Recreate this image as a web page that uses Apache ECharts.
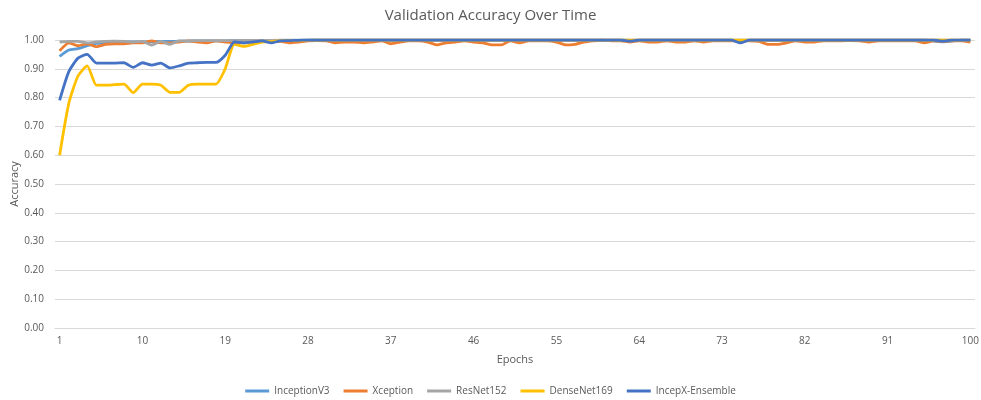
<!DOCTYPE html>
<html>
<head>
<meta charset="utf-8">
<script src="https://cdn.jsdelivr.net/npm/echarts@6/dist/echarts.min.js"></script>
<style>html,body{margin:0;padding:0;background:#fff}#c{width:981px;height:400px}</style>
</head>
<body>
<div id="c"></div>
<script>
const epochs = Array.from({length: 100}, (_, i) => String(i + 1));

const inceptionV3 = [0.943,0.965,0.970,0.980,0.988,0.990,0.992,0.993,0.993,0.993,
0.994,0.995,0.995,0.996,0.996,0.997,0.997,0.997,0.997,0.998,
0.998,0.998,0.998,0.998,0.999,0.999,0.999,1,1,1,
1,1,1,1,1,1,1,1,1,1,
1,1,1,1,1,1,1,1,1,1,
1,1,1,1,1,1,1,1,1,1,
1,1,0.998,1,1,1,1,1,1,1,
1,1,1,1,0.995,1,1,1,1,1,
1,1,1,1,1,1,1,1,1,1,
1,1,1,1,1,0.996,0.994,0.996,1,1];

const xception = [0.962,0.990,0.980,0.987,0.977,0.985,0.987,0.987,0.990,0.990,
0.997,0.990,0.990,0.993,0.997,0.993,0.990,0.997,0.993,0.990,
0.990,0.993,0.997,0.993,0.995,0.990,0.993,0.997,0.998,0.997,
0.990,0.993,0.993,0.990,0.993,0.997,0.987,0.993,0.997,0.997,
0.993,0.983,0.990,0.993,0.997,0.993,0.990,0.983,0.983,0.997,
0.990,0.997,0.997,0.997,0.993,0.983,0.985,0.993,0.997,1.000,
0.997,0.997,0.993,0.997,0.993,0.993,0.997,0.993,0.993,0.997,
0.993,0.997,0.997,0.997,0.997,0.997,0.995,0.985,0.985,0.990,
0.997,0.993,0.993,0.997,0.997,0.997,0.998,0.997,0.993,0.997,
0.997,0.997,0.997,0.997,0.990,0.997,0.995,0.997,0.997,0.993];

const resNet152 = [0.993,0.995,0.995,0.990,0.993,0.995,0.996,0.995,0.993,0.995,
0.982,0.995,0.985,0.997,0.997,0.998,0.998,0.998,0.998,0.998,
0.999,0.999,0.999,0.999,1,1,1,1,1,1,
1,1,1,1,1,1,1,1,1,1,
1,1,1,1,1,1,1,1,1,1,
1,1,1,1,1,1,1,1,1,1,
1,1,1,1,1,1,1,1,1,1,
1,1,1,1,1,1,1,1,1,1,
1,1,1,1,1,1,1,1,1,1,
1,1,1,1,1,1,1,1,1,1];

const denseNet169 = [0.600,0.780,0.875,0.910,0.843,0.843,0.845,0.847,0.817,0.847,
0.847,0.843,0.818,0.818,0.843,0.847,0.847,0.847,0.900,0.985,
0.978,0.985,0.993,0.995,0.997,0.998,0.998,0.999,1,1,
1,1,1,1,1,1,1,1,1,1,
1,1,1,1,1,1,1,1,1,1,
1,1,1,1,1,1,1,1,1,1,
1,1,1,1,1,1,1,1,1,1,
1,1,1,1,1,1,1,1,1,1,
1,1,1,1,1,1,1,1,1,1,
1,1,1,1,1,1,1,1,1,1];

const incepXEnsemble = [0.790,0.890,0.937,0.950,0.920,0.920,0.920,0.921,0.905,0.921,
0.913,0.920,0.903,0.910,0.920,0.921,0.922,0.922,0.947,0.993,
0.990,0.993,0.997,0.990,0.997,0.998,0.999,1,1,1,
1,1,1,1,1,1,1,1,1,1,
1,1,1,1,1,1,1,1,1,1,
1,1,1,1,1,1,1,1,1,1,
1,1,0.996,1,1,1,1,1,1,1,
1,1,1,1,0.990,1,1,1,1,1,
1,1,1,1,1,1,1,1,1,1,
1,1,1,1,1,1,0.996,1,1,1];

const seriesNames = ['InceptionV3','Xception','ResNet152','DenseNet169','IncepX-Ensemble'];
const seriesData = [inceptionV3, xception, resNet152, denseNet169, incepXEnsemble];
const colors = ['#5B9BD5','#ED7D31','#A5A5A5','#FFC000','#4472C4'];

const font = 'Open Sans';
const chart = echarts.init(document.getElementById('c'));
chart.setOption({
  animation: false,
  title: {
    text: 'Validation Accuracy Over Time',
    left: 'center', top: 3,
    textStyle: {color: '#595959', fontSize: 15, fontWeight: 'normal', fontFamily: font}
  },
  legend: {
    bottom: -1, left: 'center',
    itemWidth: 24, itemHeight: 3, itemGap: 14,
    icon: 'rect',
    textStyle: {color: '#595959', fontSize: 10, fontFamily: font},
    data: seriesNames
  },
  grid: {left: 55, right: 6, top: 40, bottom: 72, containLabel: false, outerBoundsMode: 'none'},
  xAxis: {
    type: 'category', data: epochs, boundaryGap: true,
    name: 'Epochs', nameLocation: 'middle', nameGap: 26, nameMoveOverlap: false,
    nameTextStyle: {color: '#595959', fontSize: 11, fontFamily: font},
    axisLine: {show: true, lineStyle: {color: '#D9D9D9'}},
    axisTick: {show: false},
    axisLabel: {interval: 8, color: '#595959', fontSize: 10, fontFamily: font, margin: 8}
  },
  yAxis: {
    type: 'value', min: 0, max: 1, interval: 0.1,
    name: 'Accuracy', nameLocation: 'middle', nameGap: 35, nameMoveOverlap: false,
    nameTextStyle: {color: '#595959', fontSize: 11, fontFamily: font},
    axisLine: {show: false}, axisTick: {show: false},
    axisLabel: {color: '#595959', fontSize: 10, fontFamily: font, margin: 11, formatter: v => v.toFixed(2)},
    splitLine: {lineStyle: {color: '#D9D9D9'}}
  },
  series: seriesNames.map((n, i) => ({
    name: n, type: 'line', data: seriesData[i],
    showSymbol: false, smooth: 0.2,
    lineStyle: {width: 2.8, color: colors[i]},
    itemStyle: {color: colors[i]}
  }))
});
</script>
</body>
</html>
